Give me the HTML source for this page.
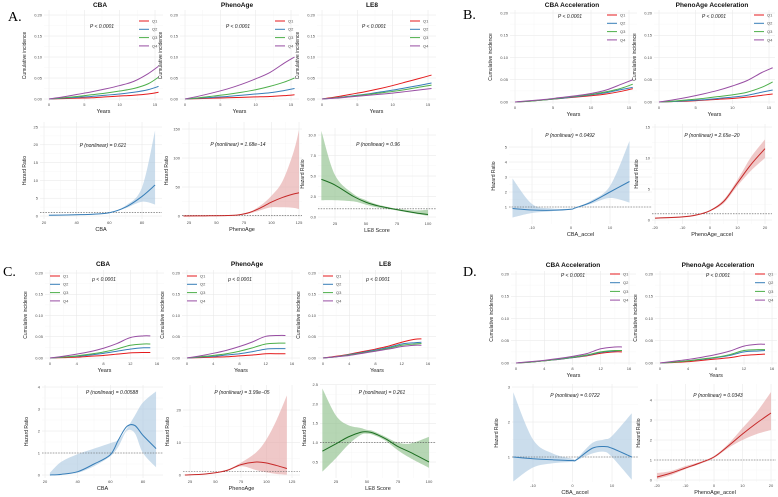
<!DOCTYPE html>
<html><head><meta charset="utf-8"><style>
html,body{margin:0;padding:0;background:#fff;}
svg{display:block;font-family:"Liberation Sans",sans-serif;}
</style></head><body>
<svg id="fig" width="778" height="497" viewBox="0 0 778 497"></svg>
<script>
// ===== Data =====
const qNames = ["Q1","Q2","Q3","Q4"];
const yearsA = [0,2,4,6,8,10,12,14,15.5];
const yearsC = [0,2,4,6,8,10,12,14,15];
const incA1 = [[0,.001,.002,.003,.005,.007,.009,.012,.016],[0,.002,.004,.006,.009,.012,.016,.022,.03],[0,.003,.006,.01,.014,.019,.025,.036,.052],[0,.005,.011,.017,.024,.032,.042,.06,.078]];
const incA2 = [[0,.001,.002,.003,.004,.005,.006,.008,.01],[0,.002,.004,.006,.009,.012,.015,.02,.025],[0,.003,.007,.011,.016,.022,.03,.04,.05],[0,.007,.015,.024,.035,.048,.063,.085,.1]];
const incA3 = [[0,.005,.011,.017,.024,.032,.041,.05,.057],[0,.003,.007,.011,.016,.021,.027,.033,.038],[0,.003,.006,.01,.014,.018,.023,.029,.033],[0,.002,.005,.008,.011,.014,.018,.022,.025]];
const incB1 = [[0,.002,.005,.008,.011,.014,.018,.024,.03],[0,.002,.005,.008,.012,.016,.021,.028,.033],[0,.002,.005,.009,.013,.017,.023,.031,.04],[0,.003,.006,.01,.014,.019,.027,.04,.05]];
const incB2 = [[0,.001,.002,.004,.006,.008,.011,.015,.018],[0,.001,.003,.005,.008,.011,.015,.022,.027],[0,.002,.005,.008,.012,.016,.022,.033,.045],[0,.005,.011,.018,.026,.036,.048,.066,.077]];
const incC1 = [[0,.001,.002,.004,.006,.009,.012,.013,.013],[0,.002,.004,.007,.011,.016,.021,.024,.024],[0,.002,.005,.009,.014,.021,.03,.033,.033],[0,.004,.009,.015,.023,.034,.048,.052,.052]];
const incC2 = [[0,.001,.002,.003,.005,.007,.01,.01,.01],[0,.002,.004,.007,.01,.015,.021,.022,.022],[0,.003,.006,.01,.016,.024,.033,.035,.035],[0,.005,.011,.018,.027,.038,.051,.053,.053]];
const incC3 = [[0,.004,.009,.015,.021,.028,.037,.044,.045],[0,.003,.008,.013,.019,.025,.033,.036,.037],[0,.003,.007,.012,.017,.023,.03,.033,.034],[0,.003,.006,.011,.016,.021,.027,.03,.03]];
const incD1 = [[0,.002,.005,.008,.012,.016,.022,.025,.025],[0,.002,.005,.008,.012,.017,.024,.027,.028],[0,.002,.005,.009,.013,.018,.025,.028,.028],[0,.003,.006,.01,.015,.021,.032,.036,.036]];
const incD2 = [[0,.001,.003,.006,.009,.012,.017,.019,.02],[0,.002,.005,.008,.012,.017,.025,.027,.028],[0,.002,.005,.009,.013,.019,.028,.03,.03],[0,.004,.008,.013,.019,.027,.038,.042,.042]];

const hrA1x=[23,30,40,50,60,70,80,88], hrA1m=[0.2,0.25,0.35,0.5,0.9,2.5,5.5,8.7], hrA1l=[0.1,0.15,0.25,0.4,0.8,2.2,4,3.2], hrA1h=[0.4,0.4,0.5,0.65,1.0,2.9,8,24];
const hrA2x=[20,40,60,70,80,90,100,110,120,125], hrA2m=[0.1,0.3,0.8,2,6,14,24,32,38,40], hrA2l=[0,0.2,0.6,1.6,4.5,10,15,15,14,12], hrA2h=[0.3,0.4,1,2.5,7,18,35,60,110,148];
const hrA3x=[14,25,40,50,60,75,90,100], hrA3m=[4.6,3.9,2.5,1.8,1.35,0.9,0.5,0.3], hrA3l=[2.05,2.05,1.9,1.5,1.15,0.8,0.4,0.15], hrA3h=[10.5,5.1,2.8,2.05,1.5,1.0,0.8,0.9];
const hrB1x=[-15,-10,-5,0,1,5,10,15], hrB1m=[0.9,0.8,0.78,0.85,0.93,1.3,2.0,2.7], hrB1l=[0.3,0.6,0.72,0.83,0.92,1.2,1.6,1.3], hrB1h=[2.9,1.2,0.9,0.88,0.95,1.4,2.4,5.4];
const hrB2x=[-20,-10,-5,0,5,10,15,20], hrB2m=[0.3,0.5,0.8,1.5,3,6,9,11.5], hrB2l=[0.2,0.4,0.7,1.4,2.7,5.5,8,10], hrB2h=[0.4,0.6,0.9,1.6,3.3,6.5,10.2,13];
const hrC1x=[23,30,40,50,60,65,70,75,80,88], hrC1m=[0,0.03,0.15,0.5,0.92,1.6,2.2,2.25,1.8,1.2], hrC1l=[0,0.02,0.1,0.4,0.85,1.3,2.0,1.9,1.0,0.35], hrC1h=[0.1,0.6,0.95,1.2,1.45,1.6,2.1,2.7,3.3,3.8];
const hrC2x=[20,40,60,75,90,100,110,120], hrC2m=[0,0.3,1.3,3.2,4,3.7,2.9,2], hrC2l=[0,0.2,1.1,2.7,1.5,0.8,0.3,0.1], hrC2h=[0.1,0.4,1.5,3.8,7,11,17,24.5];
const hrC3x=[14,25,35,45,50,55,65,75,85,100], hrC3m=[0.78,0.97,1.15,1.27,1.28,1.25,1.1,0.9,0.75,0.5], hrC3l=[0.25,0.6,0.95,1.2,1.23,1.2,1.05,0.8,0.6,0.35], hrC3h=[2.4,1.7,1.45,1.38,1.33,1.3,1.15,1.0,0.98,1.15];
const hrD1x=[-15,-10,-5,0,1,5,8,10,15], hrD1m=[1.0,0.95,0.92,0.9,0.92,1.25,1.3,1.25,1.0], hrD1l=[0.3,0.7,0.82,0.86,0.9,1.1,1.15,1.0,0.35], hrD1h=[2.85,1.5,1.1,0.95,0.95,1.4,1.5,1.6,2.25];
const hrD2x=[-20,-15,-10,-5,0,5,10,15,20], hrD2m=[0.15,0.35,0.6,0.85,1.15,1.7,2.3,2.85,3.35], hrD2l=[0.05,0.25,0.55,0.8,1.1,1.6,2.0,2.3,2.5], hrD2h=[0.35,0.45,0.7,0.9,1.2,1.8,2.6,3.4,4.4];

const incTicksA=[0,5,10,15], incTicksC=[0,4,8,12,16], incY=[0,0.05,0.1,0.15,0.2];
const incYLabels=["0.00","0.05","0.10","0.15","0.20"];

// ===== Rendering =====
const NS="http://www.w3.org/2000/svg";
const svg=document.getElementById("fig");
const qCols=["#e41a1c","#377eb8","#4daf4a","#984ea3"];
function el(tag,attrs,parent){const e=document.createElementNS(NS,tag);for(const k in attrs)e.setAttribute(k,attrs[k]);(parent||svg).appendChild(e);return e;}
function lin(a){return v=>a[1]+(v-a[0])*(a[3]-a[1])/(a[2]-a[0]);}
function smooth(pts){let d="M"+pts[0][0].toFixed(2)+","+pts[0][1].toFixed(2);
 for(let i=0;i<pts.length-1;i++){const p0=pts[Math.max(0,i-1)],p1=pts[i],p2=pts[i+1],p3=pts[Math.min(pts.length-1,i+2)];
 const c1=[p1[0]+(p2[0]-p0[0])/6,p1[1]+(p2[1]-p0[1])/6],c2=[p2[0]-(p3[0]-p1[0])/6,p2[1]-(p3[1]-p1[1])/6];
 d+="C"+c1.map(v=>v.toFixed(2))+" "+c2.map(v=>v.toFixed(2))+" "+p2[0].toFixed(2)+","+p2[1].toFixed(2);}return d;}
function txt(s,x,y,o,g){const t=el("text",Object.assign({x:x,y:y,"font-size":4,fill:"#4d4d4d","text-anchor":"middle"},o||{}),g);t.textContent=s;return t;}

function axes(g,c,X,Y,xt,yt,ytl,xlab,ylab){
 const [L,T,R,B]=c.rect;
 xt.forEach(v=>{el("line",{x1:X(v),x2:X(v),y1:T,y2:B,stroke:"#e6e6e6","stroke-width":0.5},g);});
 yt.forEach(v=>{el("line",{x1:L,x2:R,y1:Y(v),y2:Y(v),stroke:"#e6e6e6","stroke-width":0.5},g);});
 for(let i=0;i<xt.length-1;i++){const m=(X(xt[i])+X(xt[i+1]))/2;el("line",{x1:m,x2:m,y1:T,y2:B,stroke:"#f2f2f2","stroke-width":0.3},g);}
 for(let i=0;i<yt.length-1;i++){const m=(Y(yt[i])+Y(yt[i+1]))/2;el("line",{x1:L,x2:R,y1:m,y2:m,stroke:"#f2f2f2","stroke-width":0.3},g);}
 xt.forEach(v=>{const t=txt(String(v),X(v),B+5,{},g);});
 yt.forEach((v,i)=>{const t=txt(ytl?ytl[i]:String(v),L-2,Y(v)+1.4,{"text-anchor":"end"},g);});
 const xl=txt(xlab,(L+R)/2,B+12,{"font-size":5.5,fill:"#222"},g);
 
 const yc=(T+B)/2,yx=L-(c.ylabOff||18);
 const yl=txt(ylab,yx,yc,{"font-size":5,fill:"#222",transform:"rotate(-90 "+yx+" "+yc+")"},g);
 
}

function incPlot(c){
 const g=el("g",{});
 const X=lin(c.xa),Y=lin(c.ya);
 axes(g,c,X,Y,c.xt,incY,incYLabels,"Years","Cumulative incidence");
 c.data.forEach((s,qi)=>{const pts=c.years.map((yr,i)=>[X(yr),Y(s[i])]);
  const p=el("path",{d:smooth(pts),fill:"none",stroke:qCols[qi],"stroke-width":1},g);
  });
 const pt=txt(c.p,c.pPos[0],c.pPos[1],{"font-size":5,"font-style":"italic",fill:"#222"},g);
 
 qNames.forEach((q,i)=>{const y=c.leg[2]+i*c.leg[3];
  const lg=el("g",{},g);
  el("line",{x1:c.leg[0],x2:c.leg[0]+10,y1:y,y2:y,stroke:qCols[i],"stroke-width":1},lg);
  txt(q,c.leg[0]+13,y+1.4,{"text-anchor":"start"},lg);});
}

function hrPlot(c){
 const g=el("g",{});
 const X=lin(c.xa),Y=lin(c.ya);
 axes(g,c,X,Y,c.xt,c.yt,c.ytl,c.xlab,"Hazard Ratio");
 const up=c.x.map((v,i)=>[X(v),Y(c.h[i])]),lo=c.x.map((v,i)=>[X(v),Y(c.l[i])]).reverse();
 const band=el("path",{d:smooth(up)+"L"+smooth(lo).slice(1)+"Z",fill:c.band,"fill-opacity":0.6,stroke:"none"},g);
 
 const ref=el("line",{x1:c.rect[0],x2:c.rect[2],y1:Y(1),y2:Y(1),stroke:"#555","stroke-width":0.6,"stroke-dasharray":"1.5,1.2"},g);
 
 const line=el("path",{d:smooth(c.x.map((v,i)=>[X(v),Y(c.m[i])])),fill:"none",stroke:c.col,"stroke-width":1},g);
 
 const pt=txt(c.p,c.pPos[0],c.pPos[1],{"font-size":5,"font-style":"italic",fill:"#222"},g);
 
}

const BL="#377eb8",BLB="#a9c6e0",RD="#c62828",RDB="#e4a3a3",GR="#1b6e20",GRB="#86bb82";
const P1="P < 0.0001",P2="p < 0.0001";
incPlot({id:"a-cba",rect:[44,10,163,101],xa:[0,49,15,155],ya:[0,99,0.2,15],xt:incTicksA,years:yearsA,data:incA1,p:P1,pPos:[102,28],leg:[139,21,21,8.3]});
incPlot({id:"a-phenoage",rect:[180,10,299,101],xa:[0,185,15,291],ya:[0,99,0.2,15],xt:incTicksA,years:yearsA,data:incA2,p:P1,pPos:[238,28],leg:[275,21,21,8.3]});
incPlot({id:"a-le8",rect:[317,10,436,101],xa:[0,322,15,428],ya:[0,99,0.2,15],xt:incTicksA,years:yearsA,data:incA3,p:P1,pPos:[374,28],leg:[410,21,21,8.3]});
incPlot({id:"b-cba-accel",rect:[510,10,637,104],xa:[0,515,15,629],ya:[0,102,0.2,13],xt:incTicksA,years:yearsA,data:incB1,p:P1,pPos:[570,18],leg:[607,15,15,8.3]});
incPlot({id:"b-phenoage-accel",rect:[654,10,775,104],xa:[0,659,15,769],ya:[0,102,0.2,13],xt:incTicksA,years:yearsA,data:incB2,p:P1,pPos:[714,18],leg:[754,15,15,8.3]});
incPlot({id:"c-cba",rect:[45,270,164,360],xa:[0,50,16,157],ya:[0,358,0.2,273],xt:incTicksC,years:yearsC,data:incC1,p:P2,pPos:[104,281],leg:[50,276,276,8.3]});
incPlot({id:"c-phenoage",rect:[182,270,300,360],xa:[0,187,16,292],ya:[0,358,0.2,273],xt:incTicksC,years:yearsC,data:incC2,p:P2,pPos:[240,281],leg:[187,276,276,8.3]});
incPlot({id:"c-le8",rect:[318,270,436,360],xa:[0,323,16,428],ya:[0,358,0.2,273],xt:incTicksC,years:yearsC,data:incC3,p:P2,pPos:[378,281],leg:[323,276,276,8.3]});
incPlot({id:"d-cba-accel",rect:[511,271,636,365],xa:[0,516,16,629],ya:[0,363,0.2,274],xt:incTicksC,years:yearsC,data:incD1,p:P1,pPos:[573,277],leg:[610,274,274,8.7]});
incPlot({id:"d-phenoage-accel",rect:[655,271,777,365],xa:[0,660,16,772],ya:[0,363,0.2,274],xt:incTicksC,years:yearsC,data:incD2,p:P1,pPos:[718,277],leg:[755,274,274,8.7]});
hrPlot({id:"a-cba",rect:[40,122,162,219],xa:[20,44,80,142],ya:[0,216,25,127],xt:[20,40,60,80],yt:[0,5,10,15,20,25],xlab:"CBA",x:hrA1x,m:hrA1m,l:hrA1l,h:hrA1h,col:BL,band:BLB,p:"P (nonlinear) = 0.621",pPos:[103,147],ylabOff:14});
hrPlot({id:"a-phenoage",rect:[182,122,302,219],xa:[25,189,75,244],ya:[0,216,150,129],xt:[25,50,75,100,125],yt:[0,50,100,150],xlab:"PhenoAge",x:hrA2x,m:hrA2m,l:hrA2l,h:hrA2h,col:RD,band:RDB,p:"P (nonlinear) = 1.68e−14",pPos:[238,146],ylabOff:14});
hrPlot({id:"a-le8",rect:[318,128,436,220],xa:[25,335,100,428],ya:[0,217,10,135],xt:[25,50,75,100],yt:[0,2.5,5,7.5,10],ytl:["0.0","2.5","5.0","7.5","10.0"],xlab:"LE8 Score",x:hrA3x,m:hrA3m,l:hrA3l,h:hrA3h,col:GR,band:GRB,p:"P (nonlinear) = 0.96",pPos:[378,146],ylabOff:14});
hrPlot({id:"b-cba-accel",rect:[509,128,652,224],xa:[-10,532,10,610],ya:[1,207,5,147],xt:[-10,0,10],yt:[1,2,3,4,5],xlab:"CBA_accel",x:hrB1x,m:hrB1m,l:hrB1l,h:hrB1h,col:BL,band:BLB,p:"P (nonlinear) = 0.0492",pPos:[570,137],ylabOff:14});
hrPlot({id:"b-phenoage-accel",rect:[652,124,772,224],xa:[-20,655,20,765],ya:[0,220,15,127],xt:[-20,-10,0,10,20],yt:[0,5,10,15],xlab:"PhenoAge_accel",x:hrB2x,m:hrB2m,l:hrB2l,h:hrB2h,col:RD,band:RDB,p:"P (nonlinear) = 2.65e−20",pPos:[712,137],ylabOff:14});
hrPlot({id:"c-cba",rect:[42,385,163,478],xa:[20,45,80,143],ya:[0,475,4,387],xt:[20,40,60,80],yt:[0,1,2,3,4],xlab:"CBA",x:hrC1x,m:hrC1m,l:hrC1l,h:hrC1h,col:BL,band:BLB,p:"P (nonlinear) = 0.00588",pPos:[112,394],ylabOff:14});
hrPlot({id:"c-phenoage",rect:[183,385,300,478],xa:[25,190,125,292],ya:[0,475,20,410],xt:[25,50,75,100,125],yt:[0,10,20],xlab:"PhenoAge",x:hrC2x,m:hrC2m,l:hrC2l,h:hrC2h,col:RD,band:RDB,p:"P (nonlinear) = 3.99e−05",pPos:[242,394],ylabOff:14});
hrPlot({id:"c-le8",rect:[320,385,436,478],xa:[25,336,100,429],ya:[0.5,462,2,404],xt:[25,50,75,100],yt:[0.5,1,1.5,2,2.5],ytl:["0.5","1.0","1.5","2.0","2.5"],xlab:"LE8 Score",x:hrC3x,m:hrC3m,l:hrC3l,h:hrC3h,col:GR,band:GRB,p:"P (nonlinear) = 0.261",pPos:[382,394],ylabOff:14});
hrPlot({id:"d-cba-accel",rect:[512,384,638,482],xa:[-10,533,10,612],ya:[1,457,3,387],xt:[-10,0,10],yt:[1,2,3],xlab:"CBA_accel",x:hrD1x,m:hrD1m,l:hrD1l,h:hrD1h,col:BL,band:BLB,p:"P (nonlinear) = 0.0722",pPos:[575,397],ylabOff:14});
hrPlot({id:"d-phenoage-accel",rect:[654,384,776,482],xa:[-20,657,20,771],ya:[0,480,4,400],xt:[-20,-10,0,10,20],yt:[0,1,2,3,4],xlab:"PhenoAge_accel",x:hrD2x,m:hrD2m,l:hrD2l,h:hrD2h,col:RD,band:RDB,p:"P (nonlinear) = 0.0343",pPos:[718,397],ylabOff:14});

const titles=[["CBA",100,7],["PhenoAge",237,7],["LE8",372,7],["CBA Acceleration",572,7],["PhenoAge Acceleration",712,7],
 ["CBA",103,266],["PhenoAge",247,266],["LE8",385,266],["CBA Acceleration",573,267],["PhenoAge Acceleration",718,267]];
titles.forEach(t=>{const e=txt(t[0],t[1],t[2],{"font-size":6.5,"font-weight":"bold",fill:"#111"});
 });
const letters=[["A.",8,21],["B.",463,19],["C.",3,276],["D.",463,276]];
letters.forEach(t=>{const e=txt(t[0],t[1],t[2],{"font-size":14,"text-anchor":"start",fill:"#000","font-family":"Liberation Serif, serif"});
 });
</script>
</body></html>
